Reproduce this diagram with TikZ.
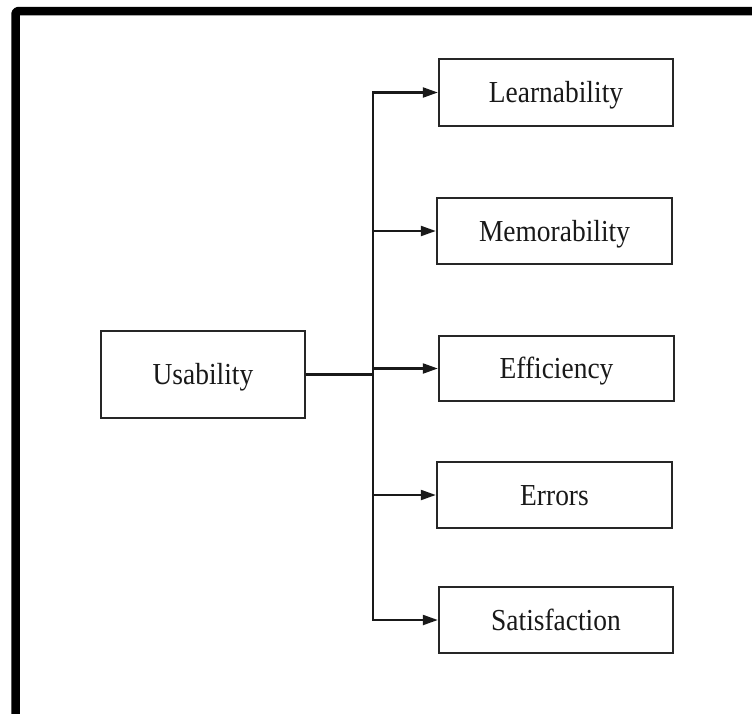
\documentclass[tikz,border=0pt]{standalone}
\usepackage{fontspec}
\setmainfont{Liberation Serif}[FakeStretch=0.9]
\usetikzlibrary{arrows.meta}
\begin{document}
\begin{tikzpicture}[x=1pt,y=-1pt,
  box/.style={draw=black!85, line width=2.4pt, fill=white, inner sep=0pt,
    text height=22pt, text depth=2pt,
    font=\fontsize{30.5}{33}\selectfont, text=black!90},
  link/.style={line width=2.2pt, draw=black!90},
  arr/.style={link, -{Triangle[length=15pt,width=10pt]}}]
\useasboundingbox (0,0) rectangle (752,713);
\fill[white] (0,0) rectangle (752,713);
\draw[line width=8.5pt, line join=round, rounded corners=3pt] (15.5,720) -- (15.5,11) -- (760,11);

\node[box, minimum width=204pt, minimum height=87pt] (u) at (203,374.5) {Usability};
\node[box, minimum width=234pt, minimum height=67pt] (l) at (556,92.5) {Learnability};
\node[box, minimum width=235pt, minimum height=66pt] (m) at (554.5,231) {Memorability};
\node[box, minimum width=235pt, minimum height=65pt] (e) at (556.5,368.5) {Efficiency};
\node[box, minimum width=235pt, minimum height=66pt] (r) at (554.5,495) {Errors};
\node[box, minimum width=234pt, minimum height=66pt] (s) at (556,620) {Satisfaction};

\coordinate (j) at (373,374.5);
\draw[link] (u.east) -- (j);
\draw[arr] (j) |- (l.west);
\draw[arr] (j) |- (m.west);
\draw[arr] (j) |- (e.west);
\draw[arr] (j) |- (r.west);
\draw[arr] (j) |- (s.west);
\end{tikzpicture}
\end{document}
